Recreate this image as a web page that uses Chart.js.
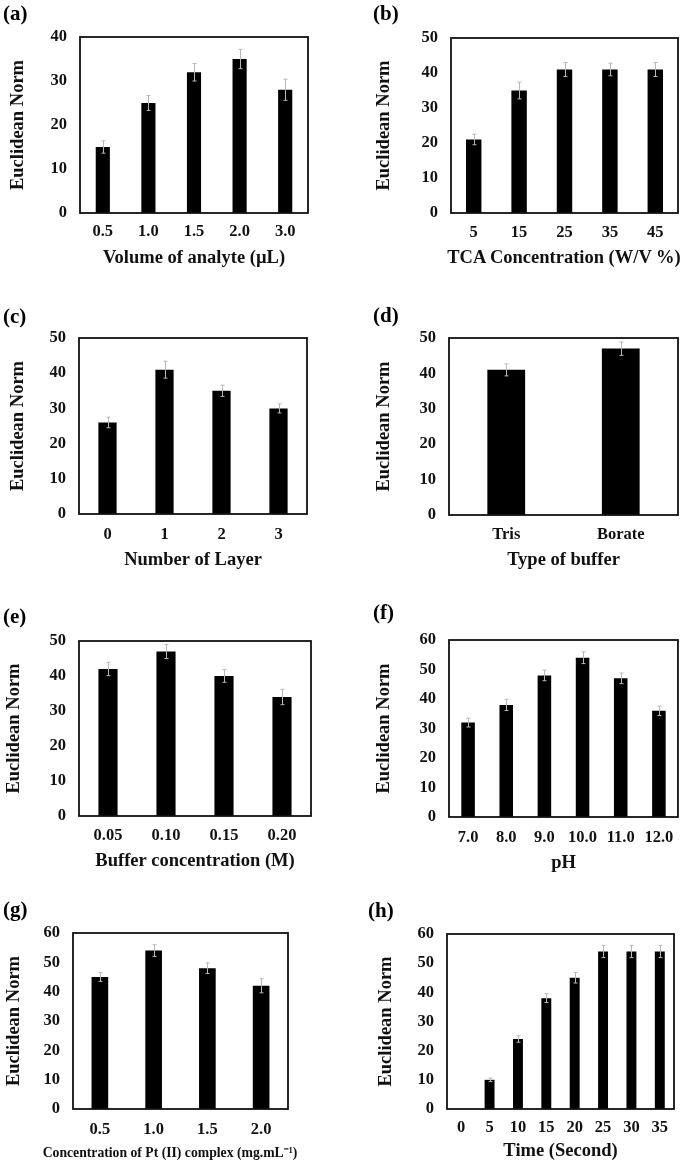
<!DOCTYPE html>
<html>
<head>
<meta charset="utf-8">
<script src="https://cdn.jsdelivr.net/npm/chart.js@4.4.0/dist/chart.umd.min.js"></script>
<style>
  html, body { margin:0; padding:0; width:685px; height:1165px; overflow:hidden; background:#fff; }
  .cv { position:absolute; }
  .lbl { position:absolute; font-family:"Liberation Serif", serif; font-weight:bold; font-size:21px; line-height:1; color:#000; }
  .xt { position:absolute; font-family:"Liberation Serif", serif; font-weight:bold; color:#111; white-space:nowrap; text-align:center; transform:translate(-50%, -50%); line-height:1; }
</style>
</head>
<body>
<script>
// ---------- DATA ----------
const catA = ['0.5', '1.0', '1.5', '2.0', '3.0'];
const valA = [15, 25, 32, 35, 28];
const errA = [1.4, 1.7, 2.0, 2.2, 2.4];

const catB = ['5', '15', '25', '35', '45'];
const valB = [21, 35, 41, 41, 41];
const errB = [1.5, 2.4, 2.0, 1.8, 2.0];

const catC = ['0', '1', '2', '3'];
const valC = [26, 41, 35, 30];
const errC = [1.5, 2.4, 1.6, 1.3];

const catD = ['Tris', 'Borate'];
const valD = [41, 47];
const errD = [1.7, 1.9];

const catE = ['0.05', '0.10', '0.15', '0.20'];
const valE = [42, 47, 40, 34];
const errE = [1.9, 2.0, 1.8, 2.2];

const catF = ['7.0', '8.0', '9.0', '10.0', '11.0', '12.0'];
const valF = [32, 38, 48, 54, 47, 36];
const errF = [1.5, 1.9, 1.8, 2.0, 1.8, 1.6];

const catG = ['0.5', '1.0', '1.5', '2.0'];
const valG = [45, 54, 48, 42];
const errG = [1.5, 2.0, 1.8, 2.4];

const catH = ['0', '5', '10', '15', '20', '25', '30', '35'];
const valH = [0, 10, 24, 38, 45, 54, 54, 54];
const errH = [0, 0.6, 1.1, 1.5, 1.8, 2.1, 2.1, 2.1];

const yTitle = 'Euclidean Norm';
const xTitles = ['Volume of analyte (\u00B5L)', 'TCA Concentration (W/V %)', 'Number of Layer', 'Type of buffer',
                 'Buffer concentration (M)', 'pH', 'Concentration of Pt (II) complex (mg.mL\u207B\u00B9)', 'Time (Second)'];
const panelLetters = ['(a)', '(b)', '(c)', '(d)', '(e)', '(f)', '(g)', '(h)'];
const yMax = [40, 50, 50, 50, 50, 60, 60, 60];

// ---------- LAYOUT ----------
const FONT = '"Liberation Serif", "Times New Roman", serif';
const panels = [
  {cat: catA, val: valA, err: errA, L: 80,  T: 37,  R: 308, B: 213,  cx: 0,   cy: 10,  cw: 340, bp: 0.31, ytc: 18,  xtd: 45.3, tkd: 19, xfs: 18.5, lx: 3,   ly: 3},
  {cat: catB, val: valB, err: errB, L: 451, T: 38,  R: 678, B: 213,  cx: 340, cy: 10,  cw: 345, bp: 0.34, ytc: 384, xtd: 43.7, tkd: 20, xfs: 18.5, lx: 373, ly: 3, htmlTitle: {x: 564, y: 257}},
  {cat: catC, val: valC, err: errC, L: 79,  T: 338, R: 307, B: 514,  cx: 0,   cy: 300, cw: 340, bp: 0.32, ytc: 18,  xtd: 46,   tkd: 21, xfs: 18.5, lx: 3,   ly: 306},
  {cat: catD, val: valD, err: errD, L: 449, T: 338, R: 678, B: 515,  cx: 340, cy: 300, cw: 345, bp: 0.33, ytc: 384, xtd: 45,   tkd: 20, xfs: 18.5, lx: 373, ly: 305},
  {cat: catE, val: valE, err: errE, L: 79,  T: 641, R: 311, B: 816,  cx: 0,   cy: 600, cw: 340, bp: 0.33, ytc: 14,  xtd: 45,   tkd: 20, xfs: 18.5, lx: 3,   ly: 606},
  {cat: catF, val: valF, err: errF, L: 449, T: 640, R: 678, B: 817,  cx: 340, cy: 600, cw: 345, bp: 0.355, ytc: 384, xtd: 46,  tkd: 21, xfs: 18.5, lx: 373, ly: 602},
  {cat: catG, val: valG, err: errG, L: 73,  T: 933, R: 288, B: 1109, cx: 0,   cy: 895, cw: 340, bp: 0.31, ytc: 14,  xtd: 44,   tkd: 21, xfs: 13.7, lx: 3,   ly: 899, htmlTitle: {x: 170, y: 1153}},
  {cat: catH, val: valH, err: errH, L: 447, T: 934, R: 674, B: 1109, cx: 340, cy: 895, cw: 345, bp: 0.35, ytc: 386, xtd: 42.7, tkd: 19, xfs: 18.5, lx: 368, ly: 900}
];

const XH = 60;          // x-axis box height
const TICK_FS = 16.5;
const TITLE_FS = 18.5;

// frame + error bars plugin
const framePlugin = {
  id: 'frameErr',
  afterDatasetsDraw(chart, args, opts) {
    const {ctx, chartArea: a, scales: {y}} = chart;
    ctx.save();
    const meta = chart.getDatasetMeta(0);
    const errs = opts.err || [];
    ctx.strokeStyle = '#b8b8b8';
    ctx.lineWidth = 1;
    meta.data.forEach((el, i) => {
      const e = errs[i];
      const v = chart.data.datasets[0].data[i];
      if (!e || !v) return;
      const x = Math.round(el.x) + 0.5;
      const yTop = y.getPixelForValue(v + e);
      const yBot = y.getPixelForValue(v - e);
      ctx.beginPath();
      ctx.moveTo(x, yTop); ctx.lineTo(x, yBot);
      ctx.moveTo(x - 2, yTop); ctx.lineTo(x + 2, yTop);
      ctx.moveTo(x - 2, yBot); ctx.lineTo(x + 2, yBot);
      ctx.stroke();
    });
    ctx.strokeStyle = '#111';
    ctx.lineWidth = 1.8;
    ctx.strokeRect(a.left, a.top, a.right - a.left, a.bottom - a.top);
    ctx.restore();
  }
};

panels.forEach((p, idx) => {
  const cvs = document.createElement('canvas');
  const ch = p.B + XH - p.cy;
  cvs.width = p.cw; cvs.height = ch;
  cvs.className = 'cv';
  cvs.style.left = p.cx + 'px';
  cvs.style.top = p.cy + 'px';
  cvs.style.width = p.cw + 'px';
  cvs.style.height = ch + 'px';
  document.body.appendChild(cvs);

  const lab = document.createElement('div');
  lab.className = 'lbl';
  lab.style.left = p.lx + 'px';
  lab.style.top = p.ly + 'px';
  lab.textContent = panelLetters[idx];
  document.body.appendChild(lab);

  if (p.htmlTitle) {
    const xt = document.createElement('div');
    xt.className = 'xt';
    xt.style.left = p.htmlTitle.x + 'px';
    xt.style.top = p.htmlTitle.y + 'px';
    xt.style.fontSize = p.xfs + 'px';
    xt.textContent = xTitles[idx];
    document.body.appendChild(xt);
  }

  const yw = p.L - p.cx;
  const xfsLH = p.xfs * 1.2;
  const xTitlePadBottom = XH - p.xtd - xfsLH / 2;
  const yTitlePadTop = (p.ytc - p.cx) - (TITLE_FS * 1.2) / 2;
  const tickPad = p.tkd - (TICK_FS * 1.2) / 2;

  new Chart(cvs, {
    type: 'bar',
    data: {
      labels: p.cat,
      datasets: [{
        data: p.val,
        backgroundColor: '#000',
        borderWidth: 0,
        categoryPercentage: 1.0,
        barPercentage: p.bp
      }]
    },
    options: {
      responsive: false,
      animation: false,
      devicePixelRatio: 1,
      layout: { padding: { top: p.T - p.cy, right: p.cx + p.cw - p.R, left: 0, bottom: 0 } },
      plugins: {
        legend: { display: false },
        tooltip: { enabled: false },
        frameErr: { err: p.err }
      },
      scales: {
        x: {
          grid: { display: false, drawTicks: false },
          border: { display: false },
          ticks: {
            color: '#111', padding: tickPad, maxRotation: 0, autoSkip: false,
            font: { family: FONT, weight: 'bold', size: TICK_FS }
          },
          title: {
            display: !p.htmlTitle, text: xTitles[idx], color: '#111',
            font: { family: FONT, weight: 'bold', size: p.xfs },
            padding: { top: 0, bottom: xTitlePadBottom }
          },
          afterFit(scale) { scale.height = XH; }
        },
        y: {
          min: 0, max: yMax[idx],
          grid: { display: false, drawTicks: false },
          border: { display: false },
          ticks: {
            stepSize: 10, color: '#111', padding: 13,
            font: { family: FONT, weight: 'bold', size: TICK_FS }
          },
          title: {
            display: true, text: yTitle, color: '#111',
            font: { family: FONT, weight: 'bold', size: TITLE_FS },
            padding: { top: yTitlePadTop, bottom: 0 }
          },
          afterFit(scale) { scale.width = yw; }
        }
      }
    },
    plugins: [framePlugin]
  });
});
</script>
</body>
</html>
